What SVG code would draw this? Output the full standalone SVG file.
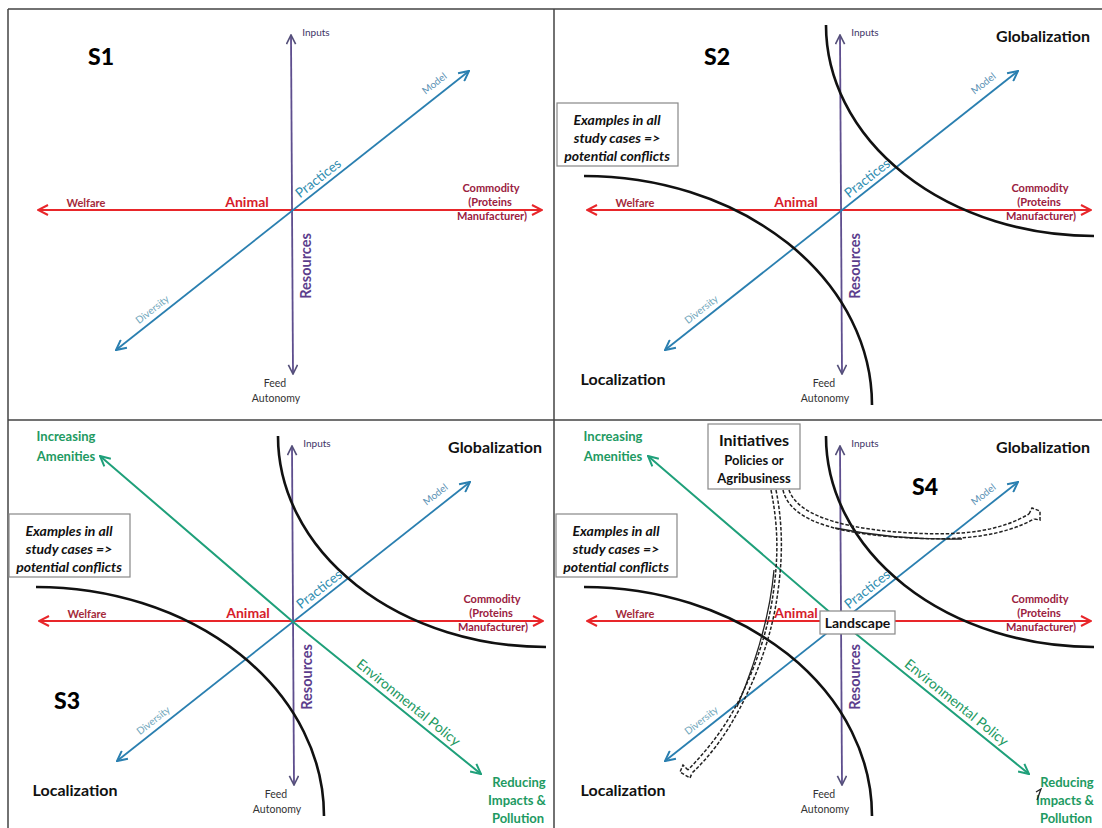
<svg xmlns="http://www.w3.org/2000/svg" width="1102" height="828" viewBox="0 0 1102 828">
<defs>
<style>
text{font-family:Lato,"Liberation Sans",sans-serif}
.frame{stroke:#444;stroke-width:1.5;fill:none}
.red{stroke:#e8262a;stroke-width:2.2;fill:none;marker-start:url(#aRed);marker-end:url(#aRed)}
.vert{stroke:#5e4e8e;stroke-width:1.8;fill:none;marker-start:url(#aVert);marker-end:url(#aVert)}
.blue{stroke:#2a7fb0;stroke-width:1.8;fill:none;marker-start:url(#aBlue);marker-end:url(#aBlue)}
.green{stroke:#1fa07a;stroke-width:2;fill:none;marker-start:url(#aGreen);marker-end:url(#aGreen)}
.curve{stroke:#111;stroke-width:2.6;fill:none}
.dash{stroke:#222;stroke-width:1.5;fill:none;stroke-dasharray:3.5 1.8}
.thin{stroke:#222;stroke-width:1.3;fill:none}
.box{fill:#fff;stroke:#888;stroke-width:1.2}
.small{font-size:10px;text-anchor:middle}
.inputs{fill:#3d3466}
.welfare{font-size:11px;font-weight:bold;fill:#a52a3a;text-anchor:middle}
.animal{font-size:14px;font-weight:bold;fill:#d6202a;text-anchor:middle}
.commodity{font-size:11px;font-weight:bold;fill:#9a2040;text-anchor:middle}
.model{font-size:10px;fill:#5b92b5;text-anchor:middle;dominant-baseline:central}
.practices{font-size:13.5px;fill:#2f8db0;text-anchor:middle;dominant-baseline:central}
.diversity{font-size:10px;fill:#6fa6bb;text-anchor:middle;dominant-baseline:central}
.resources{font-size:14.5px;font-weight:bold;fill:#5b3d8c;text-anchor:middle;dominant-baseline:central}
.feed{font-size:10.5px;fill:#333;text-anchor:middle}
.slab{font-size:23px;font-weight:900;fill:#000;text-anchor:middle}
.glob{font-size:16px;font-weight:bold;fill:#111;text-anchor:middle}
.ex{font-size:14px;font-style:italic;font-weight:bold;fill:#111;text-anchor:middle}
.gtxt{font-size:13px;font-weight:bold;fill:#1e9a62;text-anchor:middle}
.env{font-size:14px;fill:#1e9a62;text-anchor:middle;dominant-baseline:central}
.boxt{font-weight:bold;fill:#111;text-anchor:middle}
</style>
<marker id="aRed" viewBox="0 0 12 12" refX="11" refY="6" markerWidth="12" markerHeight="12" markerUnits="userSpaceOnUse" orient="auto-start-reverse"><path d="M1,1 L11,6 L1,11" fill="none" stroke="#e8262a" stroke-width="2"/></marker>
<marker id="aVert" viewBox="0 0 12 12" refX="11" refY="6" markerWidth="11" markerHeight="11" markerUnits="userSpaceOnUse" orient="auto-start-reverse"><path d="M1,1 L11,6 L1,11" fill="none" stroke="#55507a" stroke-width="1.8"/></marker>
<marker id="aBlue" viewBox="0 0 12 12" refX="11" refY="6" markerWidth="12" markerHeight="12" markerUnits="userSpaceOnUse" orient="auto-start-reverse"><path d="M1,1 L11,6 L1,11" fill="none" stroke="#2a7fb0" stroke-width="2"/></marker>
<marker id="aGreen" viewBox="0 0 12 12" refX="11" refY="6" markerWidth="12" markerHeight="12" markerUnits="userSpaceOnUse" orient="auto-start-reverse"><path d="M1,1 L11,6 L1,11" fill="none" stroke="#1fa07a" stroke-width="2"/></marker>
</defs>
<rect width="1102" height="828" fill="#fff"/>
<g id="frame">
<path class="frame" d="M8,9 H1102 M8,9 V828 M554,9 V828 M8,420 H1102"/>
</g>

<!-- S1 -->
<g id="s1">
<g class="connectors">
<path class="red" d="M38,210 H542"/>
<path class="vert" d="M291,35 L293,374"/>
<path class="blue" d="M116,350 L469,71"/>
</g>
<text class="slab" x="101" y="65">S1</text>
<text class="small inputs" x="316" y="36">Inputs</text>
<text class="welfare" x="86" y="207">Welfare</text>
<text class="animal" x="247" y="207">Animal</text>
<text class="commodity" x="491" y="192">Commodity</text>
<text class="commodity" x="490" y="206">(Proteins</text>
<text class="commodity" x="492" y="220">Manufacturer)</text>
<text class="model" transform="translate(434,83) rotate(-38.3)">Model</text>
<text class="practices" transform="translate(318,178) rotate(-38.3)">Practices</text>
<text class="diversity" transform="translate(152,309) rotate(-38.3)">Diversity</text>
<text class="resources" transform="translate(305,266) rotate(-90)">Resources</text>
<text class="feed" x="275" y="387">Feed</text>
<text class="feed" x="276" y="402">Autonomy</text>
</g>

<!-- S2 -->
<g id="s2" transform="translate(549,0)">
<g class="connectors">
<path class="red" d="M38,210 H542"/>
<path class="vert" d="M291,35 L293,374"/>
<path class="blue" d="M116,350 L469,71"/>
<path class="curve" d="M277,25 A268,211 0 0 0 545,236"/>
<path class="curve" d="M35,176 A288,229 0 0 1 323,405"/>
</g>
<text class="slab" x="168" y="65">S2</text>
<text class="glob" x="494" y="42">Globalization</text>
<text class="glob" x="74" y="385">Localization</text>
<g id="s2-box">
<rect class="box" x="8" y="103" width="121" height="63"/>
<text class="ex" x="68" y="125">Examples in all</text>
<text class="ex" x="68" y="143">study cases =&gt;</text>
<text class="ex" x="68" y="161">potential conflicts</text>
</g>
<text class="small inputs" x="316" y="36">Inputs</text>
<text class="welfare" x="86" y="207">Welfare</text>
<text class="animal" x="247" y="207">Animal</text>
<text class="commodity" x="491" y="192">Commodity</text>
<text class="commodity" x="490" y="206">(Proteins</text>
<text class="commodity" x="492" y="220">Manufacturer)</text>
<text class="model" transform="translate(434,83) rotate(-38.3)">Model</text>
<text class="practices" transform="translate(318,178) rotate(-38.3)">Practices</text>
<text class="diversity" transform="translate(152,309) rotate(-38.3)">Diversity</text>
<text class="resources" transform="translate(305,266) rotate(-90)">Resources</text>
<text class="feed" x="275" y="387">Feed</text>
<text class="feed" x="276" y="402">Autonomy</text>
</g>

<!-- S3 -->
<g id="s3" transform="translate(1,411)">
<g class="connectors">
<path class="red" d="M38,210 H542"/>
<path class="vert" d="M291,35 L293,374"/>
<path class="blue" d="M116,350 L469,71"/>
<path class="green" d="M99,45 L291,210 L480,363"/>
<path class="curve" d="M277,25 A268,211 0 0 0 545,236"/>
<path class="curve" d="M35,176 A288,229 0 0 1 323,405"/>
</g>
<text class="slab" x="66" y="298">S3</text>
<text class="glob" x="494" y="42">Globalization</text>
<text class="glob" x="74" y="385">Localization</text>
<g id="s3-box">
<rect class="box" x="8" y="103" width="121" height="63"/>
<text class="ex" x="68" y="125">Examples in all</text>
<text class="ex" x="68" y="143">study cases =&gt;</text>
<text class="ex" x="68" y="161">potential conflicts</text>
</g>
<text class="gtxt" x="65" y="30">Increasing</text>
<text class="gtxt" x="65" y="50">Amenities</text>
<text class="gtxt" x="518" y="376">Reducing</text>
<text class="gtxt" x="516" y="394">Impacts &amp;</text>
<text class="gtxt" x="517" y="412">Pollution</text>
<text class="env" transform="translate(408,291) rotate(39)">Environmental Policy</text>
<text class="small inputs" x="316" y="36">Inputs</text>
<text class="welfare" x="86" y="207">Welfare</text>
<text class="animal" x="247" y="207">Animal</text>
<text class="commodity" x="491" y="192">Commodity</text>
<text class="commodity" x="490" y="206">(Proteins</text>
<text class="commodity" x="492" y="220">Manufacturer)</text>
<text class="model" transform="translate(434,83) rotate(-38.3)">Model</text>
<text class="practices" transform="translate(318,178) rotate(-38.3)">Practices</text>
<text class="diversity" transform="translate(152,309) rotate(-38.3)">Diversity</text>
<text class="resources" transform="translate(305,266) rotate(-90)">Resources</text>
<text class="feed" x="275" y="387">Feed</text>
<text class="feed" x="276" y="402">Autonomy</text>
</g>

<!-- S4 -->
<g id="s4" transform="translate(549,411)">
<g class="connectors">
<path class="red" d="M38,210 H542"/>
<path class="vert" d="M291,35 L293,374"/>
<path class="blue" d="M116,350 L469,71"/>
<path class="green" d="M99,45 L291,210 L480,363"/>
<path class="curve" d="M277,25 A268,211 0 0 0 545,236"/>
<path class="curve" d="M35,176 A288,229 0 0 1 323,405"/>
</g>
<text class="slab" x="376" y="84">S4</text>
<text class="glob" x="494" y="42">Globalization</text>
<text class="glob" x="74" y="385">Localization</text>
<g id="s4-box">
<rect class="box" x="7" y="103" width="121" height="63"/>
<text class="ex" x="67" y="125">Examples in all</text>
<text class="ex" x="67" y="143">study cases =&gt;</text>
<text class="ex" x="67" y="161">potential conflicts</text>
</g>
<text class="gtxt" x="64" y="30">Increasing</text>
<text class="gtxt" x="64" y="50">Amenities</text>
<text class="gtxt" x="518" y="376">Reducing</text>
<text class="gtxt" x="516" y="394">Impacts &amp;</text>
<text class="gtxt" x="517" y="412">Pollution</text>
<path class="thin" d="M487,381 L492,378 L488,389"/>
<text class="env" transform="translate(408,291) rotate(39)">Environmental Policy</text>
<text class="small inputs" x="316" y="36">Inputs</text>
<text class="welfare" x="86" y="207">Welfare</text>
<text class="animal" x="247" y="207">Animal</text>
<text class="commodity" x="491" y="192">Commodity</text>
<text class="commodity" x="490" y="206">(Proteins</text>
<text class="commodity" x="492" y="220">Manufacturer)</text>
<text class="model" transform="translate(434,83) rotate(-38.3)">Model</text>
<text class="practices" transform="translate(318,178) rotate(-38.3)">Practices</text>
<text class="diversity" transform="translate(152,309) rotate(-38.3)">Diversity</text>
<text class="resources" transform="translate(305,266) rotate(-90)">Resources</text>
<text class="feed" x="275" y="387">Feed</text>
<text class="feed" x="276" y="402">Autonomy</text>
</g>

<g id="s4-bands">
<path class="dash" d="M771,490 C779,530 778,560 773,595 C768,630 755,670 736,706 C720,735 705,752 688,770"/>
<path class="dash" d="M776,490 C784,530 782,565 777,598 C772,632 759,672 740,708 C724,738 709,757 692,773"/>
<path class="thin" d="M774,570 C770,615 756,662 737,707"/>
<path class="dash" d="M688,770 L683,765 L680,772 L690,778 L692,773"/>
<path class="dash" d="M783,490 C791,525 850,535 912,538 C965,541 1005,535 1034,519"/>
<path class="dash" d="M789,490 C799,519 855,530 912,533 C963,536 1000,531 1029,514"/>
<path class="thin" d="M835,528 C870,535 910,540 962,539"/>
<path class="dash" d="M1029,514 L1032,508 L1040,511 L1040,520 L1034,519"/>
</g>
<g id="landscape">
<rect class="box" x="820" y="611" width="75" height="23"/>
<text class="boxt" x="857.5" y="627.5" font-size="14">Landscape</text>
</g>
<g id="initiatives">
<rect class="box" x="708" y="424" width="92" height="65"/>
<text class="boxt" x="754" y="446" font-size="16">Initiatives</text>
<text class="boxt" x="754" y="465" font-size="13">Policies or</text>
<text class="boxt" x="754" y="483" font-size="13">Agribusiness</text>
</g>
</svg>
